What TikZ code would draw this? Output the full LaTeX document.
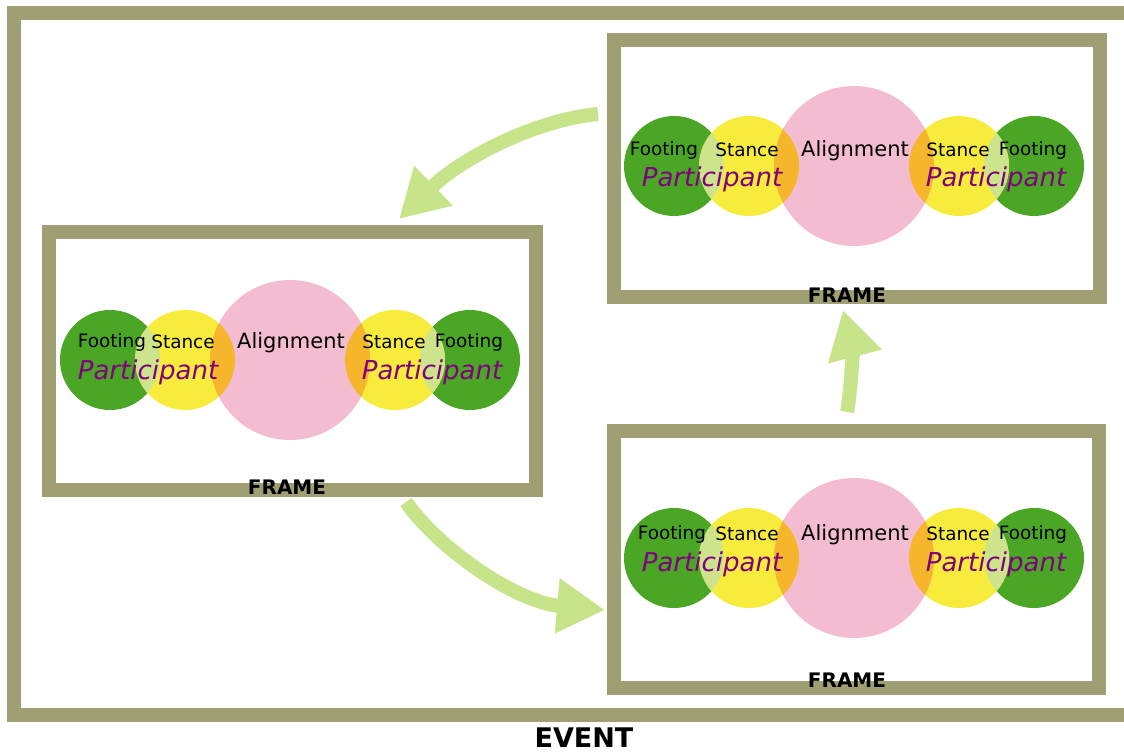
\documentclass[tikz,border=0pt]{standalone}
\usepackage{fontspec}
\setmainfont{DejaVu Sans}
\usetikzlibrary{arrows.meta}
\definecolor{bordercol}{RGB}{160,159,116}
\definecolor{footgreen}{RGB}{76,166,38}
\definecolor{stanceyel}{RGB}{247,236,60}
\definecolor{alignpink}{RGB}{244,188,208}
\definecolor{lensorange}{RGB}{245,182,44}
\definecolor{lensgreen}{RGB}{206,228,140}
\definecolor{arrowgreen}{RGB}{200,228,138}
\definecolor{partpurple}{RGB}{128,0,128}
\tikzset{
  framebox/.style={draw=bordercol, line width=7pt},
  smalllab/.style={inner sep=0pt, font=\fontsize{9.2}{10}\selectfont},
  alignlab/.style={inner sep=0pt, font=\fontsize{10.5}{12}\selectfont},
  partlab/.style={inner sep=0pt, text=partpurple, font=\fontsize{13}{15}\selectfont\itshape},
  framelab/.style={inner sep=0pt, font=\fontsize{10}{12}\selectfont\bfseries},
  eventlab/.style={inner sep=0pt, font=\fontsize{13.5}{15}\selectfont\bfseries},
  flow/.style={draw=arrowgreen, line width=7pt, -{Triangle[width=26pt,length=24pt]}}
}
% #1 prefix, #2 cx, #3 cy, #4 dy of top labels, #5 dy of participant, #6 dx of left footing
\newcommand\pgroup[6]{%
  \fill[footgreen] (#2-180,#3) circle[radius=50];
  \fill[footgreen] (#2+180,#3) circle[radius=50];
  \fill[stanceyel] (#2-105,#3) circle[radius=50];
  \fill[stanceyel] (#2+105,#3) circle[radius=50];
  \fill[alignpink] (#2,#3) circle[radius=80];
  \begin{scope}\clip (#2-180,#3) circle[radius=50];
    \fill[lensgreen] (#2-105,#3) circle[radius=50];\end{scope}
  \begin{scope}\clip (#2+180,#3) circle[radius=50];
    \fill[lensgreen] (#2+105,#3) circle[radius=50];\end{scope}
  \begin{scope}\clip (#2,#3) circle[radius=80];
    \fill[lensorange] (#2-105,#3) circle[radius=50];
    \fill[lensorange] (#2+105,#3) circle[radius=50];\end{scope}
  \node[smalllab] (#1fl) at (#2+#6,#3+#4) {Footing};
  \node[smalllab] (#1sl) at (#2-107,#3+#4) {Stance};
  \node[alignlab] (#1al) at (#2+1,#3+#4+1) {Alignment};
  \node[smalllab] (#1sr) at (#2+104,#3+#4) {Stance};
  \node[smalllab] (#1fr) at (#2+179,#3+#4) {Footing};
  \node[partlab] (#1pl) at (#2-142,#3+#5) {Participant};
  \node[partlab] (#1pr) at (#2+142,#3+#5) {Participant};
}
\begin{document}
\begin{tikzpicture}[x=0.5pt, y=-0.5pt]
\useasboundingbox (0,0) rectangle (1124,754);
\clip (0,0) rectangle (1124,754);
\fill[white] (0,0) rectangle (1124,754);
% event frame
\draw[framebox] (14,13) rectangle (1131,715);
\node[eventlab] (event) at (584,738) {EVENT};
% frames
\draw[framebox] (49,232) rectangle (536,490);
\draw[framebox] (614,40) rectangle (1100,297);
\draw[framebox] (614,431) rectangle (1099,688);
\pgroup{a}{290}{360}{-18}{12}{-178}
\pgroup{b}{854}{166}{-16}{13}{-190}
\pgroup{c}{854}{558}{-24}{6}{-182}
\node[framelab] (fa) at (287,487) {FRAME};
\node[framelab] (fb) at (847,295) {FRAME};
\node[framelab] (fc) at (847,680) {FRAME};
% arrows
\coordinate (a1s) at (598,114);
\coordinate (a1e) at (399,219);
\coordinate (a2s) at (406,502);
\coordinate (a2e) at (605,610);
\coordinate (a3s) at (847,412);
\coordinate (a3e) at (843,310);
\draw[flow] (a1s) .. controls (535,120) and (462,158) .. (a1e);
\draw[flow] (a2s) .. controls (438,548) and (515,602) .. (a2e);
\draw[flow] (a3s) .. controls (852,385) and (852,345) .. (a3e);
\end{tikzpicture}
\end{document}
